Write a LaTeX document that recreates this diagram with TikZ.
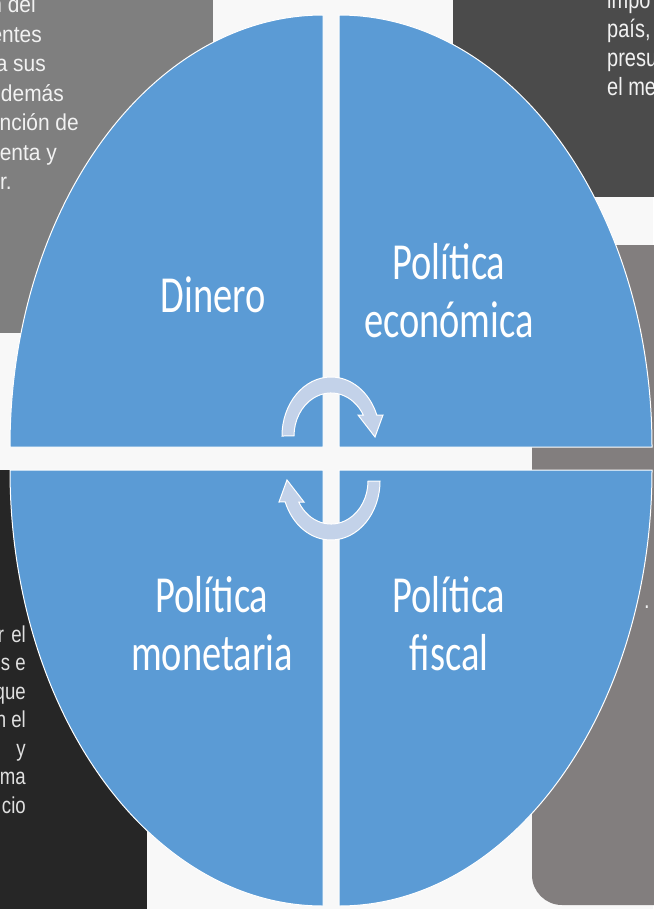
\documentclass[tikz,border=0pt]{standalone}
\usepackage{fontspec}
\newfontfamily\quadfont[FakeStretch=0.74]{Carlito}
\newfontfamily\leftfont[FakeStretch=0.91]{Liberation Sans}
\newfontfamily\rightfont[FakeStretch=0.8]{Liberation Sans}
\newfontfamily\lowfont[FakeStretch=0.81]{Liberation Sans}

\definecolor{pagebg}{HTML}{F8F8F8}
\definecolor{quadblue}{HTML}{5B9BD5}
\definecolor{arrowfill}{HTML}{C3D2E9}
\definecolor{boxgrey}{HTML}{7F7F7F}
\definecolor{boxdark}{HTML}{4B4B4B}
\definecolor{boxwarm}{HTML}{827E7E}
\definecolor{boxblack}{HTML}{262626}
\definecolor{boxtextcol}{HTML}{F2F2F2}

\tikzset{
  quad/.style={fill=quadblue,draw=white,line width=1},
  quadlabel/.style={text=white,align=center,inner sep=0,
    font=\quadfont\fontsize{52}{58}\selectfont},
  boxtext/.style={inner sep=0,text=boxtextcol},
  cyclearrow/.pic={
    \fill[arrowfill,draw=white,line width=1]
      (-49,0) arc[start angle=180,end angle=339.2,x radius=49,y radius=59]
      -- (52,-21) -- (44,1) -- (27,-21) -- (32.3,-21)
      arc[start angle=330.8,end angle=180,x radius=37,y radius=43] -- cycle;
  }
}

\begin{document}
\begin{tikzpicture}[x=1pt,y=-1pt]

      \useasboundingbox (0,0) rectangle (653,909);
      \fill[pagebg] (0,0) rectangle (653,909);

      % boxes behind the cycle
      \fill[boxgrey] (-5,-5) rectangle (213,333);
      \fill[boxdark] (453,-5) rectangle (700,197);
      \fill[boxwarm,rounded corners=30] (532,245) rectangle (700,905);
      \fill[boxblack] (-5,470) rectangle (147,915);

      \foreach \txt/\xr/\yb [count=\i] in {n del/36/13,entes/42/42.5,a sus/46/72,
          demás/64/101.5,unción de/79/131,uenta y/57/160.5,r./12/190}
        \node[boxtext,anchor=base east,font=\leftfont\fontsize{23}{29}\selectfont]
          (tl\i) at (\xr,\yb) {\txt};

      \foreach \txt/\yb [count=\i] in {impo/9,{país,}/38,presu/67,el me/96}
        \node[boxtext,anchor=base west,font=\rightfont\fontsize{25}{29}\selectfont]
          (tr\i) at (607,\yb) {\txt};

      \foreach \txt/\yb [count=\i] in {r\hspace{2pt} el/642,s e/670.5,que/699,
          n el/727.5,y/756,ma/784.5,cio/813}
        \node[boxtext,text=white!88!black,anchor=base east,
          font=\lowfont\fontsize{23}{28}\selectfont] (bl\i) at (26,\yb) {\txt};

      \node[boxtext,anchor=base west,font=\rightfont\fontsize{25}{29}\selectfont]
        (mr) at (644,608) {.};

      % the four quadrants
      \fill[quad] (323,447) -- (10,447)
        arc[start angle=180,end angle=270,x radius=313,y radius=432] -- cycle;
      \fill[quad] (339,447) -- (339,15)
        arc[start angle=270,end angle=360,x radius=313,y radius=432] -- cycle;
      \fill[quad] (323,470) -- (10,470)
        arc[start angle=180,end angle=90,x radius=313,y radius=436] -- cycle;
      \fill[quad] (339,470) -- (652,470)
        arc[start angle=0,end angle=90,x radius=313,y radius=436] -- cycle;

      \pic (arrowtop) at (331,436) {cyclearrow};
      \pic[rotate=180] (arrowbottom) at (331,481) {cyclearrow};

      \begin{scope}[every node/.style={quadlabel}]
        \node (dinero)     at (213,295) {Dinero};
        \node (economica)  at (449,291) {Política\\económica};
        \node (monetaria)  at (212,624) {Política\\monetaria};
        \node (fiscal)     at (449,624) {Política\\fiscal};
      \end{scope}

\end{tikzpicture}
\end{document}
